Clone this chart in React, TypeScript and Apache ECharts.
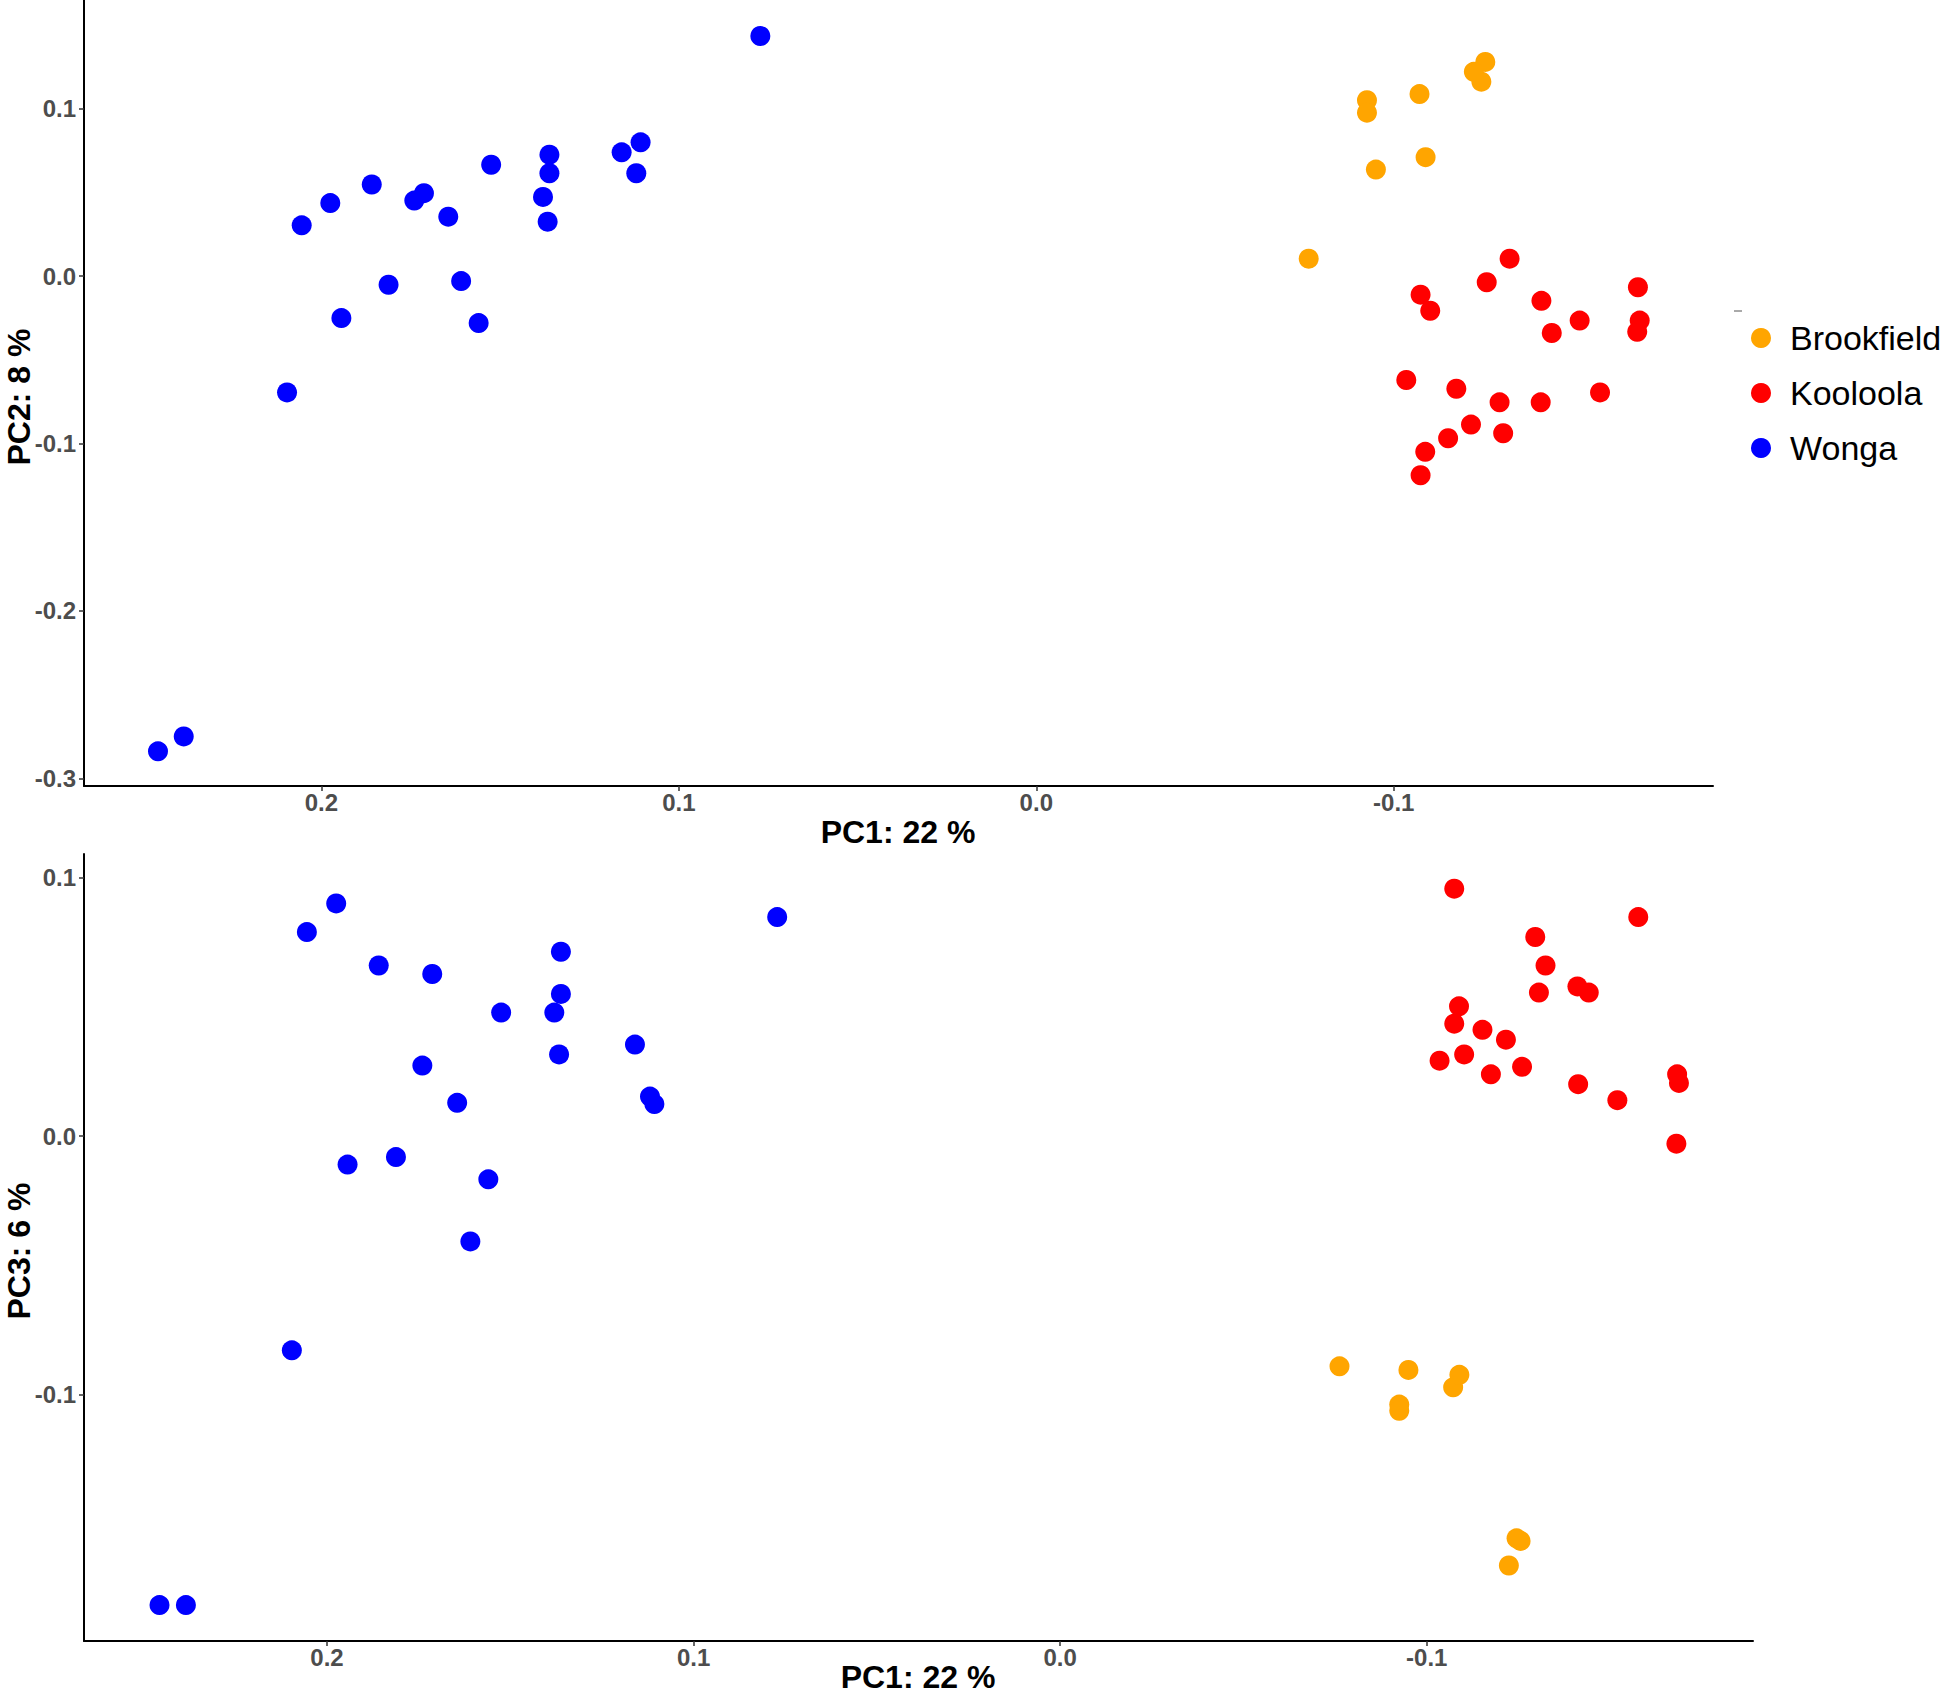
import React, { useEffect, useRef } from "react";
import * as echarts from "echarts";

const groups = ["Brookfield", "Kooloola", "Wonga"];
const groupColors = ["#FFA500", "#FF0000", "#0000FF"];

const brookfieldPC1 = [-0.0762, -0.0925, -0.0925, -0.095, -0.1072, -0.1089, -0.1256, -0.1245, -0.1224];
const brookfieldPC2 = [0.0104, 0.105, 0.0976, 0.0636, 0.1087, 0.071, 0.1279, 0.1161, 0.122];
const brookfieldPC3 = [-0.089, -0.1038, -0.1062, -0.0904, -0.0971, -0.0923, -0.1565, -0.1555, -0.166];

const kooloolaPC1 = [
  -0.1035, -0.1075, -0.1075, -0.1088, -0.1102, -0.1152, -0.1175, -0.1216, -0.126, -0.1296,
  -0.1306, -0.1324, -0.1411, -0.1413, -0.1442, -0.152, -0.1577, -0.1683, -0.1688, -0.1681,
];
const kooloolaPC2 = [
  -0.0621, -0.0111, -0.119, -0.105, -0.0207, -0.0969, -0.0673, -0.0887, -0.0037, -0.0754,
  -0.0939, 0.0104, -0.0754, -0.0148, -0.034, -0.0266, -0.0695, -0.0067, -0.0266, -0.0333,
];
const kooloolaPC3 = [
  0.0292, 0.0957, 0.0435, 0.0502, 0.0316, 0.0411, 0.0239, 0.0373, 0.0268, 0.077,
  0.0555, 0.066, 0.0579, 0.0201, 0.0555, 0.0139, 0.0847, 0.0239, 0.0206, -0.0029,
];

const wongaPC1 = [
  0.0772, 0.2055, 0.1975, 0.1859, 0.174, 0.1713, 0.1645, 0.1525, 0.1362, 0.1362, 0.138,
  0.1367, 0.116, 0.1107, 0.1119, 0.1812, 0.1609, 0.1944, 0.156, 0.2096, 0.2457, 0.2385,
];
const wongaPC2 = [
  0.1434, 0.0303, 0.0436, 0.0547, 0.0451, 0.0495, 0.0355, 0.0665, 0.0725, 0.0614, 0.0473,
  0.0325, 0.0739, 0.0799, 0.0614, -0.0052, -0.003, -0.0251, -0.0281, -0.0695, -0.2839, -0.275,
];
const wongaPC3 = [
  0.0847, 0.0789, 0.09, 0.066, 0.0273, 0.0627, 0.0129, 0.0478, 0.0713, 0.055, 0.0478,
  0.0316, 0.0354, 0.0124, 0.0153, -0.0081, -0.0407, -0.011, -0.0167, -0.0828, -0.1813, -0.1813,
];

const pc1Ticks = [0.2, 0.1, 0.0, -0.1];
const pc2Ticks = [0.1, 0.0, -0.1, -0.2, -0.3];
const pc3Ticks = [0.1, 0.0, -0.1];

const xTitle = "PC1: 22 %";
const yTitleTop = "PC2: 8 %";
const yTitleBottom = "PC3: 6 %";

const FONT = "'Liberation Sans', Arial, Helvetica, sans-serif";

function zip(a: number[], b: number[]) {
  return a.map((v, i) => [v, b[i]]);
}

function valueAxis(gridIndex: number, min: number, max: number, ticks: number[], inverse: boolean, margin: number) {
  return {
    type: "value",
    gridIndex,
    min,
    max,
    inverse,
    splitLine: { show: false },
    axisLine: { show: true, onZero: false, lineStyle: { color: "#000", width: 2 } },
    axisTick: { show: true, customValues: ticks, length: 5, lineStyle: { color: "#333", width: 1.5 } },
    axisLabel: {
      show: true,
      customValues: ticks,
      formatter: (v: number) => v.toFixed(1),
      color: "#4d4d4d",
      fontWeight: "bold",
      fontSize: 24,
      fontFamily: FONT,
      margin,
    },
  };
}

export default function App() {
  const ref = useRef<HTMLDivElement>(null);

  useEffect(() => {
    if (!ref.current) return;
    const chart = echarts.init(ref.current, null, { renderer: "svg" });

    const pc1 = [brookfieldPC1, kooloolaPC1, wongaPC1];
    const pc2 = [brookfieldPC2, kooloolaPC2, wongaPC2];
    const pc3 = [brookfieldPC3, kooloolaPC3, wongaPC3];

    const series: any[] = [];
    groups.forEach((g, i) => {
      series.push({
        name: g,
        type: "scatter",
        xAxisIndex: 0,
        yAxisIndex: 0,
        symbolSize: 20,
        itemStyle: { color: groupColors[i], opacity: 1 },
        data: zip(pc1[i], pc2[i]),
      });
      series.push({
        name: g,
        type: "scatter",
        xAxisIndex: 1,
        yAxisIndex: 1,
        symbolSize: 20,
        itemStyle: { color: groupColors[i], opacity: 1 },
        data: zip(pc1[i], pc3[i]),
      });
    });

    const titleStyle = { fill: "#000", font: `bold 32px ${FONT}`, align: "center", verticalAlign: "middle" };

    chart.setOption({
      animation: false,
      backgroundColor: "#fff",
      grid: [
        { left: 84, top: 0, width: 1629, height: 786 },
        { left: 84, top: 854, width: 1669, height: 787 },
      ],
      xAxis: [
        valueAxis(0, -0.1893, 0.2664, pc1Ticks, true, 4),
        valueAxis(1, -0.189, 0.2663, pc1Ticks, true, 4),
      ],
      yAxis: [
        valueAxis(0, -0.3046, 0.1649, pc2Ticks, false, 8),
        valueAxis(1, -0.1952, 0.1091, pc3Ticks, false, 8),
      ],
      legend: {
        data: groups,
        orient: "vertical",
        left: 1751,
        top: 321,
        padding: 0,
        itemWidth: 20,
        itemHeight: 20,
        itemGap: 21,
        icon: "circle",
        textStyle: { fontSize: 34, fontFamily: FONT, color: "#000", lineHeight: 34, padding: [0, 0, 0, 14] },
      },
      graphic: [
        { type: "text", x: 898, y: 832, style: { ...titleStyle, text: xTitle } },
        { type: "text", x: 918, y: 1677, style: { ...titleStyle, text: xTitle } },
        { type: "text", x: 19, y: 397, rotation: Math.PI / 2, style: { ...titleStyle, text: yTitleTop } },
        { type: "text", x: 19, y: 1251, rotation: Math.PI / 2, style: { ...titleStyle, text: yTitleBottom } },
        { type: "line", shape: { x1: 1734, y1: 311, x2: 1742, y2: 311 }, style: { stroke: "#555", lineWidth: 1 } },
      ],
      series,
    });

    return () => chart.dispose();
  }, []);

  return (
    <div
      ref={ref}
      style={{ position: "absolute", left: 0, top: 0, width: 1940, height: 1697, background: "#fff" }}
    />
  );
}
